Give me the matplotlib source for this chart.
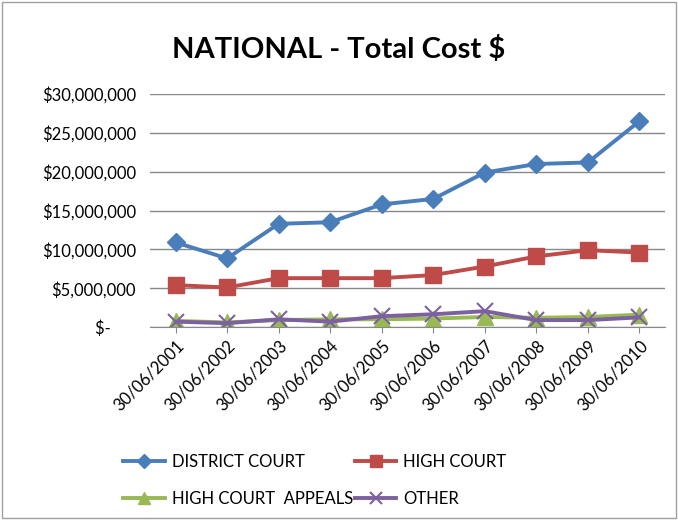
import matplotlib.pyplot as plt
from matplotlib.ticker import FuncFormatter
from matplotlib.patches import Rectangle

plt.rcParams['font.family'] = ['Lato', 'DejaVu Sans']

# data, millions of dollars
dates = ['30/06/2001', '30/06/2002', '30/06/2003', '30/06/2004', '30/06/2005',
         '30/06/2006', '30/06/2007', '30/06/2008', '30/06/2009', '30/06/2010']
district = [10.9, 8.85, 13.3, 13.5, 15.8, 16.5, 19.9, 21.0, 21.2, 26.5]
high = [5.4, 5.1, 6.3, 6.3, 6.3, 6.7, 7.8, 9.1, 9.9, 9.6]
appeals = [0.8, 0.6, 0.9, 1.0, 1.0, 1.1, 1.3, 1.2, 1.3, 1.6]
other = [0.7, 0.5, 1.0, 0.7, 1.4, 1.65, 2.05, 0.9, 0.9, 1.25]

series = [
    ('DISTRICT COURT', district, '#4A7EBB', 'D', 9),
    ('HIGH COURT', high, '#BE4B48', 's', 11),
    ('HIGH COURT  APPEALS', appeals, '#98B954', '^', 11),
    ('OTHER', other, '#7D60A0', 'x', 11),
]

fig = plt.figure(figsize=(6.78, 5.2), dpi=100)
fig.patches.append(Rectangle((0.003, 0.003), 0.994, 0.994, transform=fig.transFigure,
                             fill=False, edgecolor='#A0A0A0', linewidth=1))
ax = fig.add_axes([0.221, 0.371, 0.76, 0.448])

x = range(len(dates))
lines = []
for name, vals, col, mk, ms in series:
    l, = ax.plot(x, [v * 1e6 for v in vals], color=col, lw=2.8, marker=mk, ms=ms,
                 markeredgecolor=col, markeredgewidth=1.5 if mk == 'x' else 1, label=name)
    lines.append(l)

ax.set_ylim(0, 30e6)
ax.set_xlim(-0.5, 9.5)
ax.set_yticks([i * 5e6 for i in range(7)])
ax.yaxis.set_major_formatter(FuncFormatter(
    lambda v, p: '$-      ' if v == 0 else '${:,.0f}'.format(v)))
ax.grid(axis='y', color='#888888', lw=1)
ax.set_axisbelow(True)
for s in ['top', 'right', 'left']:
    ax.spines[s].set_visible(False)
ax.spines['bottom'].set_color('#888888')
ax.tick_params(axis='y', length=0, labelsize=12, pad=10)
ax.tick_params(axis='x', length=4, color='#888888', labelsize=12)
ax.set_xticks(list(x))
ax.set_xticklabels(dates, rotation=45, ha='right', rotation_mode='anchor')

fig.text(0.5, 0.905, 'NATIONAL - Total Cost $', ha='center', va='center',
         fontsize=21, fontweight='bold')

# row-major order like the original: district/high on top, appeals/other below
order = [0, 2, 1, 3]
fig.legend([lines[i] for i in order], [series[i][0] for i in order],
           loc='lower left', bbox_to_anchor=(0.16, -0.004), ncol=2, frameon=False,
           fontsize=12, handlelength=2.5, columnspacing=0.1, labelspacing=1.25,
           handletextpad=0.4, markerscale=0.75)

fig.savefig('out.png', dpi=100)
